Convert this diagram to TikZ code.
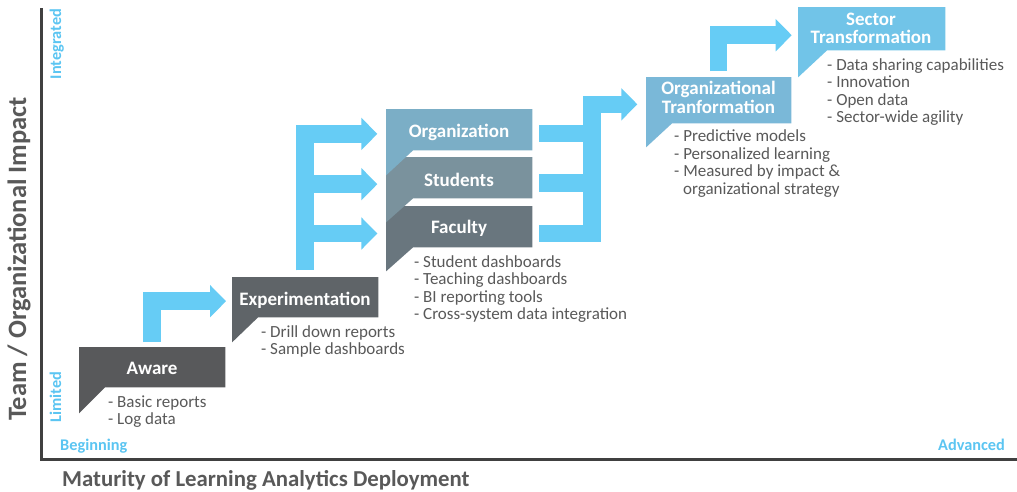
\documentclass[tikz,border=0pt]{standalone}
\usepackage{fontspec}
\setmainfont{Carlito}
\usetikzlibrary{arrows.meta}
\definecolor{arrowblue}{RGB}{102,204,245}
\definecolor{cAware}{HTML}{58595B}
\definecolor{cExp}{HTML}{5F6468}
\definecolor{cFac}{HTML}{69767E}
\definecolor{cStu}{HTML}{7A929D}
\definecolor{cOrg}{HTML}{7BAEC6}
\definecolor{cOT}{HTML}{7AB8D8}
\definecolor{cSec}{HTML}{71C4E8}
\definecolor{textgray}{HTML}{595959}
\definecolor{axisgray}{HTML}{404040}
\definecolor{lightblue}{HTML}{5BC5F2}
\begin{document}
\begin{tikzpicture}[x=1pt,y=-1pt,
  box/.style={rectangle, inner sep=0pt, anchor=north west, minimum width=146pt},
  lab/.style={text=white, font=\bfseries\fontsize{19}{19}\selectfont, inner sep=0pt, anchor=base},
  bul/.style={anchor=base west, inner sep=0pt, text=textgray, font=\fontsize{17}{18}\selectfont},
  corner/.style={inner sep=0pt, text=lightblue, font=\bfseries\fontsize{16.3}{17}\selectfont},
  axtitle/.style={inner sep=0pt, text=textgray, font=\bfseries\fontsize{22.8}{24}\selectfont},
  flow/.style={draw=arrowblue, line width=17.5pt, line join=miter, -{Triangle[length=16pt,width=31.5pt]}},
  branch/.style={draw=arrowblue, line width=17.5pt, line join=miter},
]
\useasboundingbox (0,0) rectangle (1017,491);
\fill[white] (0,0) rectangle (1017,491);

% axes
\draw[axisgray, line width=3pt, line join=miter] (41,8) -- (41,459) -- (1017,459);
\node[axtitle, rotate=90, anchor=base, font=\bfseries\fontsize{26.5}{27}\selectfont] (ytitle) at (26,259) {Team / Organizational Impact};
\node[axtitle, anchor=base west] (xtitle) at (62,486) {Maturity of Learning Analytics Deployment};
\node[corner, rotate=90, anchor=base] (integrated) at (61,44) {Integrated};
\node[corner, rotate=90, anchor=base] (limited) at (61,397) {Limited};
\node[corner, anchor=base west] (beginning) at (60,450) {Beginning};
\node[corner, anchor=base east] (advanced) at (1005,450) {Advanced};

% boxes (callouts: rectangle with a tail at the lower left)
\node[box, minimum height=40pt] (aware) at (79,347) {};
\fill[cAware] (aware.north west) -- (aware.north east) -- (aware.south east) -- ([xshift=26pt]aware.south west) -- ++(-26,26) -- cycle;
\node[lab] (awaret) at (152,374) {Aware};

\node[box, minimum height=40pt] (exp) at (232,277) {};
\fill[cExp] (exp.north west) -- (exp.north east) -- (exp.south east) -- ([xshift=26pt]exp.south west) -- ++(-26,25) -- cycle;
\node[lab] (expt) at (305,305) {Experimentation};

\node[box, minimum height=41pt] (fac) at (386,206) {};
\fill[cFac] (fac.north west) -- (fac.north east) -- (fac.south east) -- ([xshift=27pt]fac.south west) -- ++(-27,24) -- cycle;
\node[box, minimum height=41pt] (stu) at (386,157) {};
\fill[cStu] (stu.north west) -- (stu.north east) -- (stu.south east) -- ([xshift=27pt]stu.south west) -- ++(-27,24) -- cycle;
\node[box, minimum height=41pt] (org) at (386,109) {};
\fill[cOrg] (org.north west) -- (org.north east) -- (org.south east) -- ([xshift=27pt]org.south west) -- ++(-27,25) -- cycle;
\node[lab] (orgt) at (459,137.5) {Organization};
\node[lab] (stut) at (459,186) {Students};
\node[lab] (fact) at (459,233) {Faculty};

\node[box, minimum width=145pt, minimum height=46pt] (ot) at (646,77) {};
\fill[cOT] (ot.north west) -- (ot.north east) -- (ot.south east) -- ([xshift=26pt]ot.south west) -- ++(-26,24) -- cycle;
\node[lab] (ott1) at (718.5,94.5) {Organizational};
\node[lab] (ott2) at (718.5,113) {Tranformation};

\node[box, minimum width=147pt, minimum height=43pt] (sec) at (798,7) {};
\fill[cSec] (sec.north west) -- (sec.north east) -- (sec.south east) -- ([xshift=29pt]sec.south west) -- ++(-29,27) -- cycle;
\node[lab] (sect1) at (871,25) {Sector};
\node[lab] (sect2) at (871,43) {Transformation};

% bullets
\node[bul] (a1) at (108,407) {- Basic reports};
\node[bul] (a2) at (108,424) {- Log data};
\node[bul] (e1) at (261,337) {- Drill down reports};
\node[bul] (e2) at (261,354) {- Sample dashboards};
\node[bul] (s1) at (414,267) {- Student dashboards};
\node[bul] (s2) at (414,284.5) {- Teaching dashboards};
\node[bul] (s3) at (414,302) {- BI reporting tools};
\node[bul] (s4) at (414,319.5) {- Cross-system data integration};
\node[bul] (o1) at (674,141.7) {- Predictive models};
\node[bul] (o2) at (674,159.2) {- Personalized learning};
\node[bul] (o3) at (674,176.7) {- Measured by impact \&};
\node[bul] (o4) at (683,194.2) {organizational strategy};
\node[bul] (t1) at (827,70) {- Data sharing capabilities};
\node[bul] (t2) at (827,87.5) {- Innovation};
\node[bul] (t3) at (827,105) {- Open data};
\node[bul] (t4) at (827,122.5) {- Sector-wide agility};

% arrows
\draw[flow] ([yshift=5pt]aware.north) |- ([xshift=-6pt,yshift=-4pt]exp.west);

\draw[flow] ([yshift=7pt]exp.north) |- ([xshift=-8.7pt,yshift=-4.2pt]org.west);
\draw[flow] ([yshift=7pt]exp.north) |- ([xshift=-8.7pt,yshift=-6.5pt]stu.west);
\draw[flow] ([yshift=7pt]exp.north) |- ([xshift=-8.7pt,yshift=-6.8pt]fac.west);

\coordinate (j) at (592,104.3);
\draw[branch] ([xshift=7pt,yshift=-3.6pt]org.east) -- ++(53,0);
\draw[branch] ([xshift=7pt,yshift=-5.2pt]stu.east) -- ++(53,0);
\draw[flow, shorten >=8.7pt] ([xshift=7pt,yshift=-7pt]fac.east) -| (j) -- (j -| ot.west);

\draw[flow] ([yshift=6pt]ot.north) |- ([xshift=-6.3pt,yshift=-6.5pt]sec.west);
\end{tikzpicture}
\end{document}
